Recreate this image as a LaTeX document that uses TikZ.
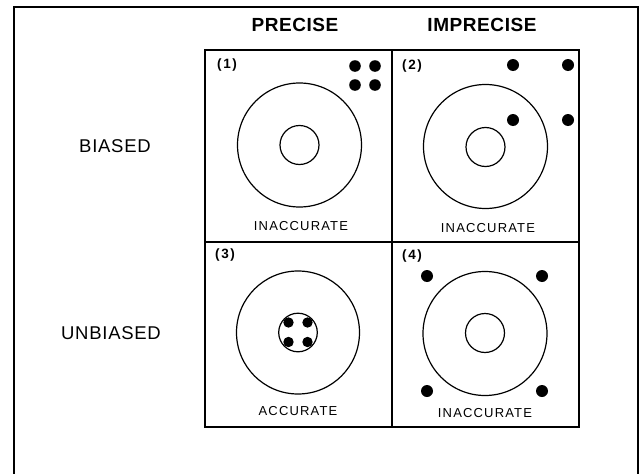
\documentclass[tikz,border=0pt]{standalone}
\usepackage{fontspec}
\setmainfont{Liberation Sans}
\newfontfamily\headfont[LetterSpace=3]{Liberation Sans}
\newfontfamily\rowfont[LetterSpace=4]{Liberation Sans}
\newfontfamily\capfont[LetterSpace=9]{Liberation Sans}
\newfontfamily\numfont[LetterSpace=12]{Liberation Sans}
\begin{document}
\begin{tikzpicture}[x=1pt,y=-1pt,
  frame/.style={line width=2.6pt},
  grid/.style={line width=1.3pt},
  ring/.style={line width=1.2pt},
  dot/.style={fill=black},
  head/.style={font=\headfont\bfseries\fontsize{19}{22}\selectfont, inner sep=0pt},
  rowlab/.style={font=\rowfont\fontsize{18.5}{22}\selectfont, inner sep=0pt},
  celllab/.style={font=\capfont\fontsize{13}{15}\selectfont, inner sep=0pt},
  num/.style={font=\numfont\bfseries\fontsize{13.5}{15}\selectfont, inner sep=0pt, anchor=west}]
\useasboundingbox (0,0) rectangle (641,474);
% outer frame (open at bottom)
\draw[frame] (14,490) -- (14,7) -- (638,7) -- (638,490);
% grid
\draw[grid] (205,50) rectangle (579,427);
\draw[grid] (392,50) -- (392,427);
\draw[grid] (205,242) -- (579,242);
% headers
\node[head] (hp) at (295,25) {PRECISE};
\node[head] (hi) at (482,25) {IMPRECISE};
\node[rowlab] (rb) at (115,146) {BIASED};
\node[rowlab] (ru) at (111,333) {UNBIASED};
% cell 1
\draw[ring] (299.5,145) circle (62);
\draw[ring] (299.5,145) circle (19.5);
\foreach \p in {(355,66),(375,66),(355,85),(375,85)} \fill[dot] \p circle (5.8);
\node[num] (n1) at (217,65) {(1)};
\node[celllab] (c1) at (301,226.5) {INACCURATE};
% cell 2
\draw[ring] (485.5,146.5) circle (62);
\draw[ring] (485.5,147) circle (19.5);
\foreach \p in {(513,65),(568,65),(513,120),(568,120)} \fill[dot] \p circle (6);
\node[num] (n2) at (402,66) {(2)};
\node[celllab] (c2) at (488,228) {INACCURATE};
% cell 3
\draw[ring] (298,332.5) circle (61.5);
\draw[ring] (298,332.5) circle (19.3);
\foreach \p in {(288.5,322.5),(307.5,322.5),(288.5,342),(307.5,342)} \fill[dot] \p circle (5.2);
\node[num] (n3) at (215,255) {(3)};
\node[celllab] (c3) at (298,411) {ACCURATE};
% cell 4
\draw[ring] (485,333.5) circle (62);
\draw[ring] (485,333) circle (19.5);
\foreach \p in {(427,276),(542,276),(427,391),(542,391)} \fill[dot] \p circle (6);
\node[num] (n4) at (402,256) {(4)};
\node[celllab] (c4) at (485,413) {INACCURATE};
\end{tikzpicture}
\end{document}
